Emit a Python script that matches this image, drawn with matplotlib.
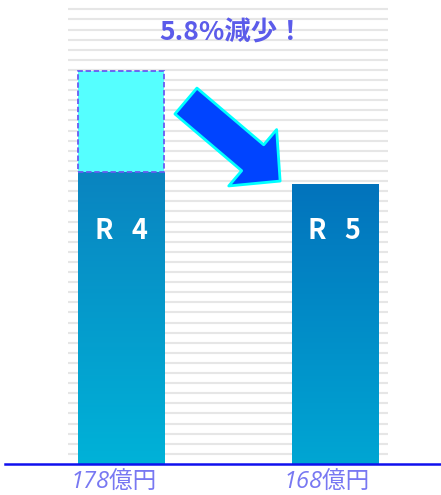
import numpy as np
import matplotlib.pyplot as plt
from matplotlib.transforms import blended_transform_factory

plt.rcParams['font.family'] = ['Noto Sans CJK JP', 'DejaVu Sans']

# data
labels = ["R4", "R5"]
values = [178, 168]              # 億円
tick_labels = ["178億円", "168億円"]
ghost_top = 262                  # dashed "before" box above R4
title = "5.8%減少！"

# scale helpers (px per unit ~1.2, floor below zero so bars keep the look)
floor = -65.3
top = 321.4
grid_step = 8.42

fig = plt.figure(figsize=(4.41, 4.95), dpi=100)
ax = fig.add_axes([68 / 441, 31 / 495, 320 / 441, 464 / 495])

x = np.arange(len(values))
width = 0.403

# background stripes
for gy in np.arange(floor + grid_step, top, grid_step):
    ax.axhline(gy, color="#E6E6E6", lw=1.5, zorder=0)

# gradient bars
grads = [("#0A84C0", "#00B2D8"), ("#0373BC", "#00A6D3")]
for i, v in enumerate(values):
    bar = ax.bar(x[i], v - floor, bottom=floor, width=width, color=grads[i][0],
                 zorder=2)[0]
    c1 = np.array(plt.matplotlib.colors.to_rgb(grads[i][0]))
    c2 = np.array(plt.matplotlib.colors.to_rgb(grads[i][1]))
    t = np.linspace(0, 1, 256)[:, None]
    img = (c1 * (1 - t) + c2 * t)[:, None, :]
    im = ax.imshow(img, extent=[x[i] - width / 2, x[i] + width / 2, floor, v],
                   aspect="auto", zorder=3, interpolation="bilinear")
    im.set_clip_path(bar)
    ax.text(x[i], 0.502, labels[i][0] + "   " + labels[i][1], color="white",
            fontsize=19.5, fontweight="bold", ha="center", va="center", zorder=5,
            transform=blended_transform_factory(ax.transData, ax.transAxes))

    # value label under the baseline
    ax.text(x[i] - 0.035, floor - 15.8, tick_labels[i], fontsize=17,
            color="#7878F2", style="italic",
            family=["Open Sans", "Noto Sans CJK JP"],
            ha="center", va="center", clip_on=False)

# ghost box on top of R4
ax.bar(x[0], ghost_top - values[0], bottom=values[0], width=width,
       color="#55FFFF", edgecolor="#6A5CF0", linestyle=(0, (3, 1.5)), lw=1.3,
       zorder=4)

# big arrow
ax.annotate("", xy=(0.745, 170.5), xytext=(0.304, 237.2),
            arrowprops=dict(arrowstyle="simple,head_length=3.6,head_width=7.4,tail_width=3.4",
                            mutation_scale=7.2, fc="#0044FF", ec="#00FFFF", lw=2,
                            shrinkA=0, shrinkB=0),
            zorder=6)

ax.set_xlim(-0.248, 1.25)
ax.set_ylim(floor, top)
ax.set_yticks([])
ax.set_xticks([])
for s in ax.spines.values():
    s.set_visible(False)

# baseline across the whole width
ax.axhline(floor, xmin=-0.197, xmax=1.17, color="#1010EE", lw=1.8,
           clip_on=False, zorder=7)

fig.text(232 / 441, 1 - 33 / 495, title, color="#5B5BEA", fontsize=19,
         fontweight="bold", ha="center", va="center")

fig.savefig("out.png", dpi=100)
